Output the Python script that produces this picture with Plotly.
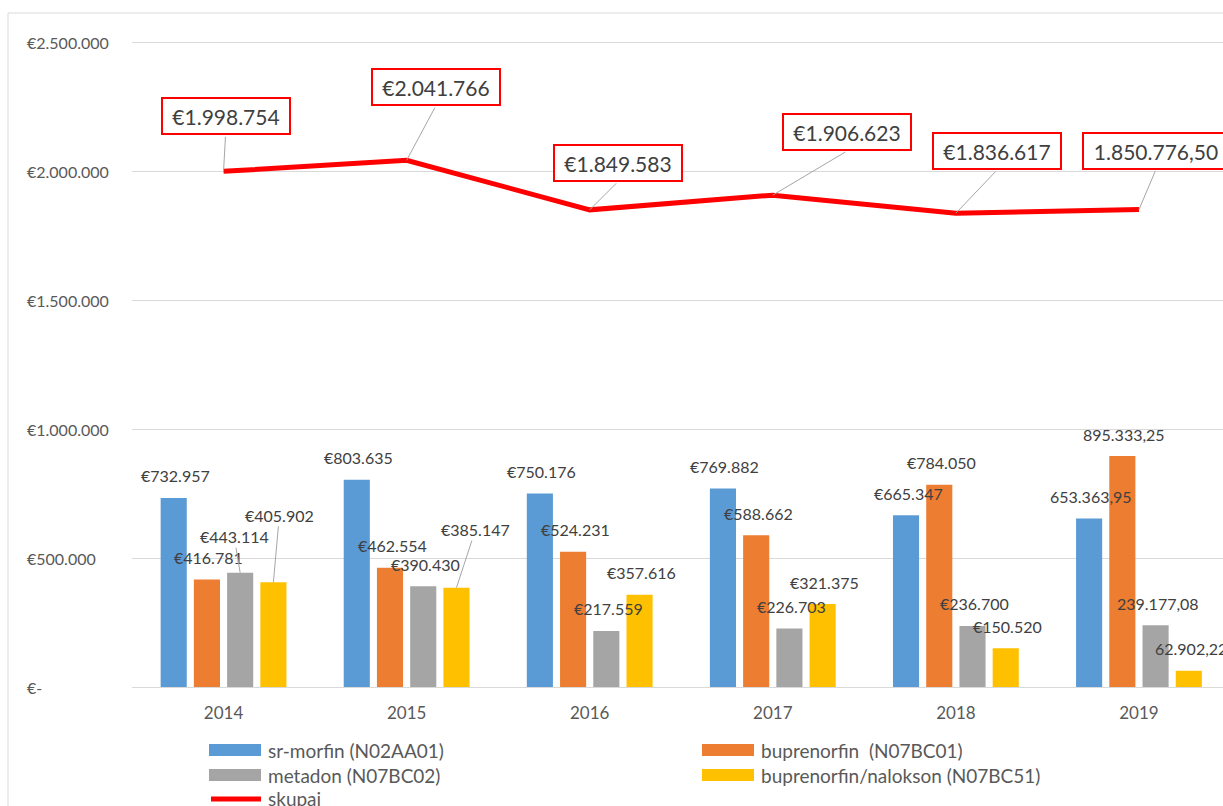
import plotly.graph_objects as go

# ---- data -------------------------------------------------------------
years = ["2014", "2015", "2016", "2017", "2018", "2019"]
sr_morfin = [732957, 803635, 750176, 769882, 665347, 653363.95]
buprenorfin = [416781, 462554, 524231, 588662, 784050, 895333.25]
metadon = [443114, 390430, 217559, 226703, 236700, 239177.08]
bup_nalokson = [405902, 385147, 357616, 321375, 150520, 62902.22]
skupaj = [1998754, 2041766, 1849583, 1906623, 1836617, 1850776.50]

series_names = ["sr-morfin (N02AA01)", "buprenorfin  (N07BC01)",
                "metadon (N07BC02)", "buprenorfin/nalokson (N07BC51)"]
total_name = "skupaj"
y_ticks = [0, 500000, 1000000, 1500000, 2000000, 2500000]
decimal_years = {"2019"}   # years whose labels are printed with cents, no euro sign

# ---- styling ----------------------------------------------------------
colors = ["#5B9BD5", "#ED7D31", "#A5A5A5", "#FFC000"]
line_color = "#FF0000"
grid_color = "#D9D9D9"
label_color = "#404040"
axis_color = "#595959"
FONT = "Lato"

W, H = 1223, 806
ML, MR, MT, MB = 132, 0, 40, 119
PW, PH = W - ML - MR, H - MT - MB
Y_MAX = 2508000
X_RANGE = [-0.5, 5.459]
BARGAP, BARGROUPGAP = 0.274, 0.214


def px_x(px):
    return (px - ML) / PW


def px_y(py):
    return (H - MB - py) / PH


def fmt_value(v, year):
    if year in decimal_years:
        s = f"{v:,.2f}"
        return s.replace(",", "X").replace(".", ",").replace("X", ".")
    return "€" + f"{round(v):,}".replace(",", ".")


def fmt_tick(v):
    return "€-" if v == 0 else "€" + f"{v:,}".replace(",", ".")


series = [sr_morfin, buprenorfin, metadon, bup_nalokson]
xs = list(range(len(years)))

fig = go.Figure()
for name, vals, col in zip(series_names, series, colors):
    fig.add_trace(go.Bar(x=xs, y=vals, name=name, marker_color=col,
                         marker_line_width=0, showlegend=False))
fig.add_trace(go.Scatter(x=xs, y=skupaj, name=total_name, mode="lines",
                         line=dict(color=line_color, width=5), showlegend=False))

annotations = []
shapes = []

# bar value labels; a few are pulled away from their bar with a leader line
slot = (1 - BARGAP) / len(series)
leader_labels = {(2, 0): (-6, -36), (3, 0): (6, -67), (3, 1): (19, -58)}
for k, vals in enumerate(series):
    for i, v in enumerate(vals):
        bx = i + (k - (len(series) - 1) / 2) * slot
        txt = fmt_value(v, years[i])
        common = dict(x=bx, y=v, xref="x", yref="y", text=txt,
                      font=dict(family=FONT, size=16, color=label_color))
        if (k, i) in leader_labels:
            ax, ay = leader_labels[(k, i)]
            annotations.append(dict(**common, showarrow=True, ax=ax, ay=ay,
                                    axref="pixel", ayref="pixel", arrowhead=0,
                                    arrowwidth=1, arrowcolor="#A6A6A6", standoff=0))
        else:
            annotations.append(dict(**common, showarrow=False, xshift=2, yshift=22,
                                    yanchor="middle"))

# total line labels in red boxes with leader lines
total_offsets = [(2, -55), (29, -73), (28, -47), (74, -63), (41, -62), (17, -59)]
BOX_H = 38
for i, v in enumerate(skupaj):
    ax, ay = total_offsets[i]
    annotations.append(dict(x=i, y=v, xref="x", yref="y", text="", showarrow=True,
                            ax=ax, ay=ay + BOX_H / 2, axref="pixel", ayref="pixel",
                            arrowhead=0, arrowwidth=1, arrowcolor="#A6A6A6", standoff=0))
    txt = fmt_value(v, years[i])
    annotations.append(dict(x=i, y=v, xref="x", yref="y", text=txt, showarrow=False,
                            xshift=ax, yshift=-ay, width=138 if years[i] in decimal_years else 120,
                            height=28, borderpad=3, bordercolor=line_color, borderwidth=2,
                            bgcolor="white",
                            font=dict(family=FONT, size=21, color=label_color)))

# y tick labels, left aligned
for t in y_ticks:
    annotations.append(dict(x=px_x(25), y=t, xref="paper", yref="y", text=fmt_tick(t),
                            showarrow=False, xanchor="left", yanchor="middle",
                            font=dict(family=FONT, size=16, color=axis_color)))

# legend
legend_items = [
    (series_names[0], colors[0], 209, 750, "bar"),
    (series_names[1], colors[1], 702, 750, "bar"),
    (series_names[2], colors[2], 209, 775, "bar"),
    (series_names[3], colors[3], 702, 775, "bar"),
    (total_name, line_color, 209, 799, "line"),
]
for name, col, lx, ly, kind in legend_items:
    if kind == "bar":
        shapes.append(dict(type="rect", xref="paper", yref="paper",
                           x0=px_x(lx), x1=px_x(lx + 52), y0=px_y(ly + 6), y1=px_y(ly - 6),
                           fillcolor=col, line_width=0))
    else:
        shapes.append(dict(type="line", xref="paper", yref="paper",
                           x0=px_x(lx + 2), x1=px_x(lx + 52), y0=px_y(ly), y1=px_y(ly),
                           line=dict(color=col, width=5)))
    annotations.append(dict(x=px_x(lx + 57), y=px_y(ly), xref="paper", yref="paper",
                            text=name, showarrow=False, xanchor="left", yanchor="middle",
                            font=dict(family=FONT, size=19, color=axis_color)))

# chart frame (extends past the right and bottom edges)
shapes.append(dict(type="line", xref="paper", yref="paper", x0=px_x(8), x1=px_x(1240),
                   y0=px_y(13), y1=px_y(13), line=dict(color=grid_color, width=1)))
shapes.append(dict(type="line", xref="paper", yref="paper", x0=px_x(8), x1=px_x(8),
                   y0=px_y(13), y1=px_y(830), line=dict(color=grid_color, width=1)))

fig.update_layout(
    width=W, height=H,
    margin=dict(l=ML, r=MR, t=MT, b=MB, pad=0),
    paper_bgcolor="white", plot_bgcolor="white",
    barmode="group", bargap=BARGAP, bargroupgap=BARGROUPGAP,
    showlegend=False,
    annotations=annotations, shapes=shapes,
    font=dict(family=FONT),
    xaxis=dict(range=X_RANGE, tickvals=xs, ticktext=years, showgrid=False,
               zeroline=False, showline=False, ticks="",
               tickfont=dict(family=FONT, size=17, color=axis_color),
               ticklabelstandoff=14),
    yaxis=dict(range=[0, Y_MAX], tickvals=y_ticks, showticklabels=False,
               showgrid=True, gridcolor=grid_color, gridwidth=1,
               zeroline=True, zerolinecolor=grid_color, zerolinewidth=1,
               showline=False, ticks=""),
)

fig.write_html("out.html")
